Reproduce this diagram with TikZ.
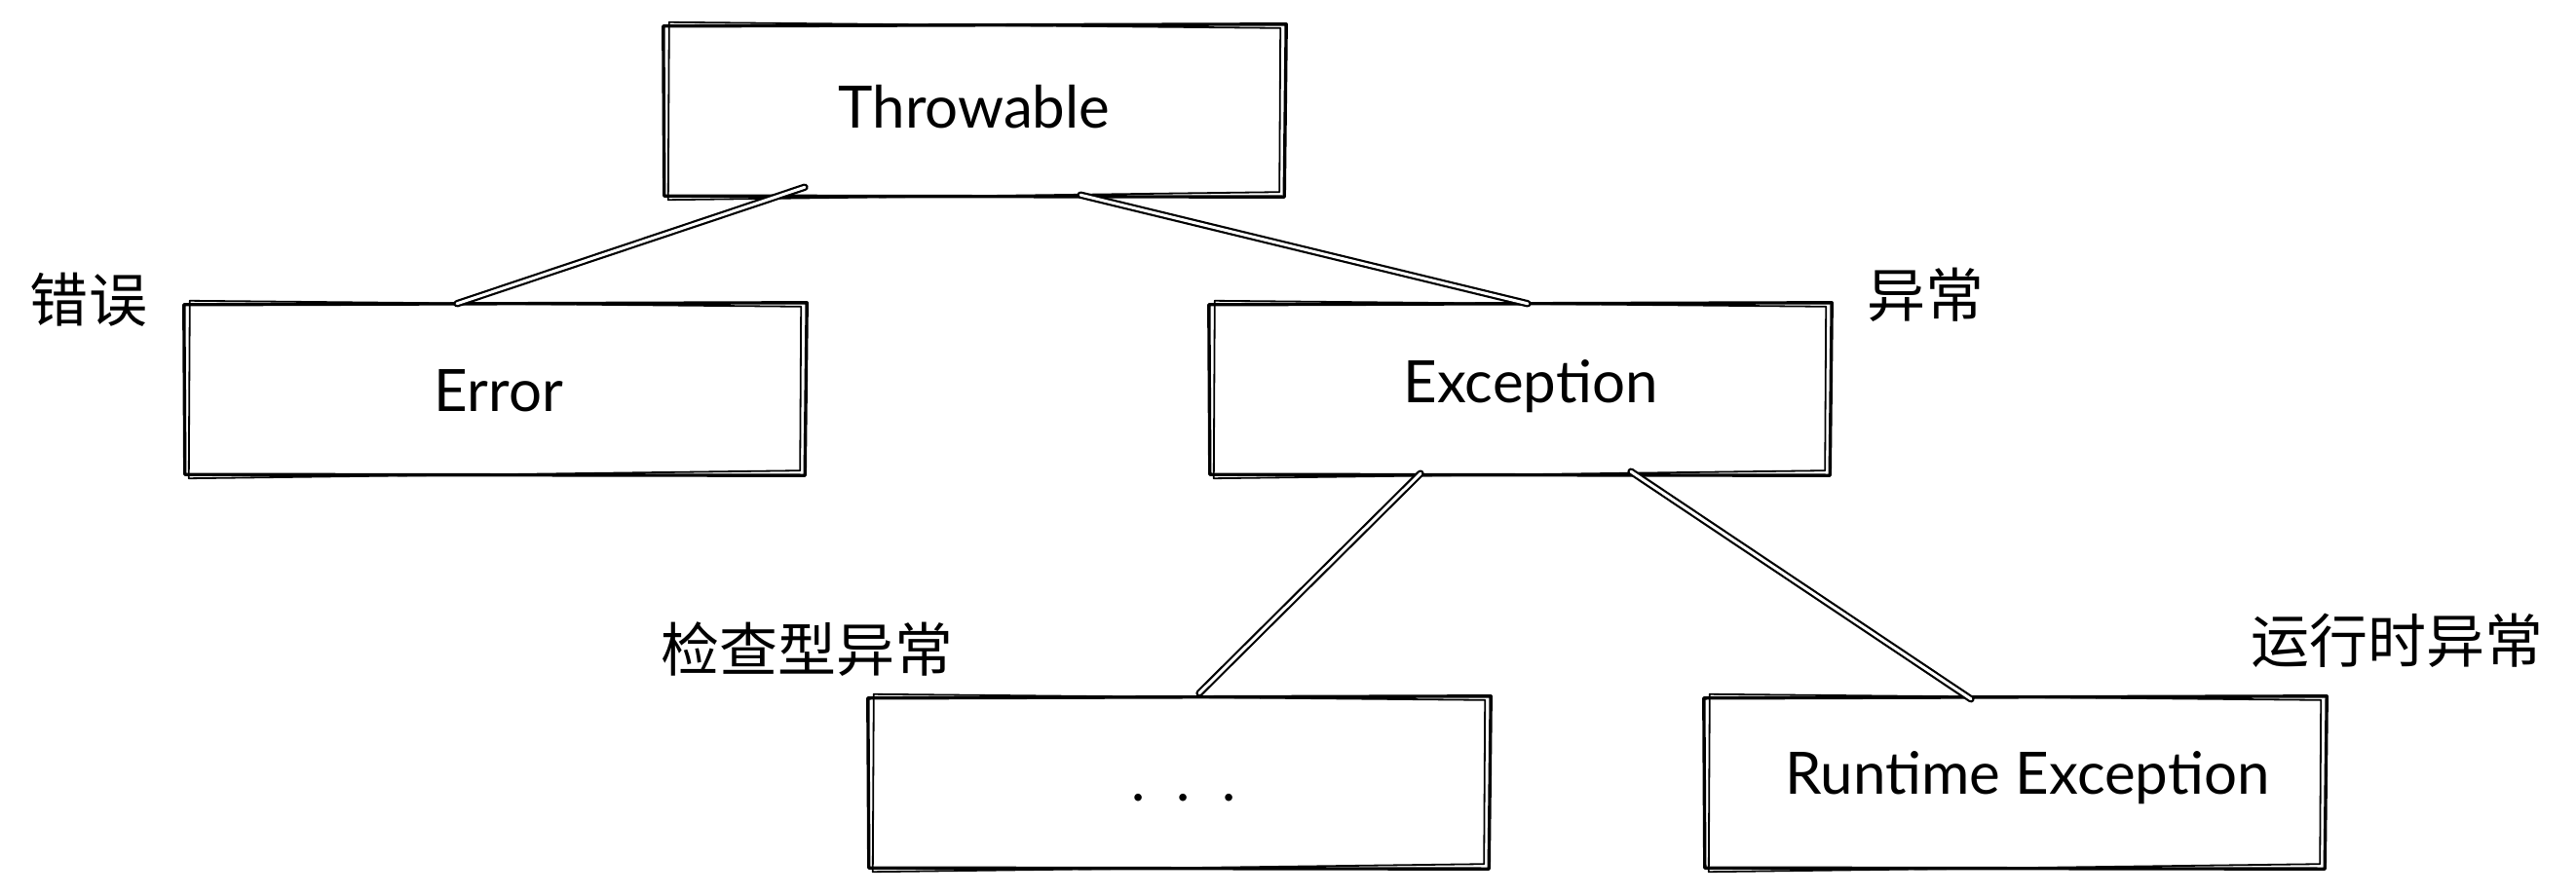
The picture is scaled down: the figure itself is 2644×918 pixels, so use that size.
\documentclass[tikz,border=0pt]{standalone}
\usepackage{fontspec}
\setmainfont{Lato}
\newfontfamily\cjk{Noto Sans CJK SC}
\newcommand\skbox[1]{%
  \draw[sk] ([shift={(-2,1)}]#1.north west) -- ([shift={(3,-1)}]#1.north east) -- ([shift={(1,2)}]#1.south east) -- ([shift={(-1,1)}]#1.south west) -- cycle;
  \draw[sk2] ([shift={(4,-3)}]#1.north west) -- ([shift={(-3,3)}]#1.north east) -- ([shift={(-4,-3)}]#1.south east) -- ([shift={(3,5)}]#1.south west) -- cycle;}
\begin{document}
\begin{tikzpicture}[x=1bp,y=-1bp,
  box/.style={minimum width=634bp, minimum height=174bp, inner sep=0pt},
  txt/.style={inner sep=0pt, font=\fontsize{60bp}{66bp}\selectfont},
  lbl/.style={inner sep=0pt, font=\cjk\fontsize{60bp}{66bp}\selectfont},
  sk/.style={line width=3.4bp, line join=round, line cap=round},
  sk2/.style={line width=1.8bp, line join=round, line cap=round},
  link/.style={double, double distance=3bp, line width=2.2bp, line cap=round}]
\useasboundingbox[fill=white] (0,0) rectangle (2644,918);
% boxes
\node[box] (T) at (1000,113) {};
\node[box] (E) at (508,399) {};
\node[box] (X) at (1560,399) {};
\node[box] (D) at (1210,803) {};
\node[box] (R) at (2068,803) {};
\skbox{T}\skbox{E}\skbox{X}\skbox{D}\skbox{R}
% texts
\node[txt] (tT) at (1000,110) {Throwable};
\node[txt] (tE) at (512,401) {Error};
\node[txt] (tX) at (1571,397) {Exception};
\node[txt,anchor=base] (tD) at (1215,822) {.\hspace{32bp}.\hspace{32bp}.};
\node[txt] (tR) at (2081,799) {Runtime Exception};
% labels
\node[lbl] (l1) at (91,308) {错误};
\node[lbl] (l2) at (1976,303) {异常};
\node[lbl] (l3) at (828,667) {检查型异常};
\node[lbl] (l4) at (2460,658) {运行时异常};
% connectors
\draw[link] ([shift={(-174,-8)}]T.south) -- ([shift={(-39,0)}]E.north);
\draw[link] ([shift={(109,0)}]T.south) -- ([shift={(8,0)}]X.north);
\draw[link] ([shift={(-102,0)}]X.south) -- ([shift={(21,-4)}]D.north);
\draw[link] ([shift={(114,-2)}]X.south) -- ([shift={(-45,2)}]R.north);
\end{tikzpicture}
\end{document}
